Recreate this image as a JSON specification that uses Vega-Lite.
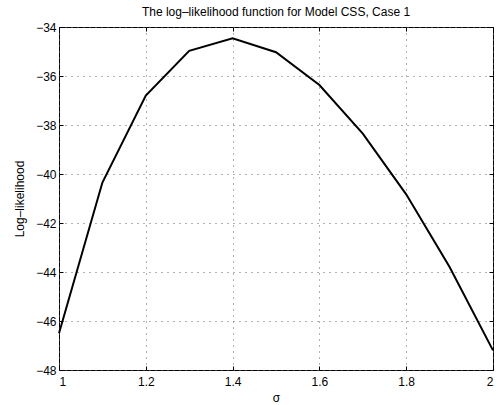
{
  "$schema": "https://vega.github.io/schema/vega-lite/v6.json",
  "width": 434,
  "height": 343,
  "autosize": "none",
  "padding": {"left": 59, "top": 27, "right": 6, "bottom": 35},
  "background": "white",
  "title": {
    "text": "The log–likelihood function for Model CSS, Case 1",
    "font": "Liberation Sans",
    "fontSize": 12,
    "fontWeight": "normal",
    "color": "black",
    "anchor": "middle",
    "offset": 2
  },
  "config": {
    "view": {"stroke": "black", "strokeWidth": 1},
    "axis": {
      "labelFont": "Liberation Sans",
      "labelFontSize": 12,
      "labelColor": "black",
      "titleFont": "Liberation Sans",
      "titleFontSize": 12,
      "titleFontWeight": "normal",
      "titleColor": "black",
      "domain": false,
      "tickColor": "black",
      "tickSize": -4,
      "gridColor": "#666666",
      "gridDash": [1, 5],
      "gridWidth": 1,
      "gridOpacity": 1
    }
  },
  "data": {
    "values": [
      {"sigma": 1.0, "ll": -46.5},
      {"sigma": 1.1, "ll": -40.35},
      {"sigma": 1.2, "ll": -36.8},
      {"sigma": 1.3, "ll": -34.97},
      {"sigma": 1.4, "ll": -34.46},
      {"sigma": 1.5, "ll": -35.03},
      {"sigma": 1.6, "ll": -36.37},
      {"sigma": 1.7, "ll": -38.35},
      {"sigma": 1.8, "ll": -40.83},
      {"sigma": 1.9, "ll": -43.8},
      {"sigma": 2.0, "ll": -47.2}
    ]
  },
  "layer": [
    {
      "mark": {"type": "line", "color": "black", "strokeWidth": 2},
      "encoding": {
        "x": {
          "field": "sigma",
          "type": "quantitative",
          "scale": {"domain": [1, 2], "nice": false, "zero": false},
          "axis": {"title": "σ", "values": [1, 1.2, 1.4, 1.6, 1.8, 2], "format": "~g", "labelPadding": 10, "titlePadding": 5, "grid": true}
        },
        "y": {
          "field": "ll",
          "type": "quantitative",
          "scale": {"domain": [-48, -34], "nice": false, "zero": false},
          "axis": {"title": "Log–likelihood", "values": [-48, -46, -44, -42, -40, -38, -36, -34], "labelPadding": 7, "titlePadding": 9, "grid": true}
        }
      }
    },
    {
      "mark": {"type": "line", "strokeOpacity": 0},
      "encoding": {
        "x": {
          "field": "sigma",
          "type": "quantitative",
          "axis": {"orient": "top", "title": null, "labels": false, "grid": false, "values": [1, 1.2, 1.4, 1.6, 1.8, 2]}
        },
        "y": {
          "field": "ll",
          "type": "quantitative",
          "axis": {"orient": "right", "title": null, "labels": false, "grid": false, "values": [-48, -46, -44, -42, -40, -38, -36, -34]}
        }
      }
    }
  ],
  "resolve": {"axis": {"x": "independent", "y": "independent"}}
}
